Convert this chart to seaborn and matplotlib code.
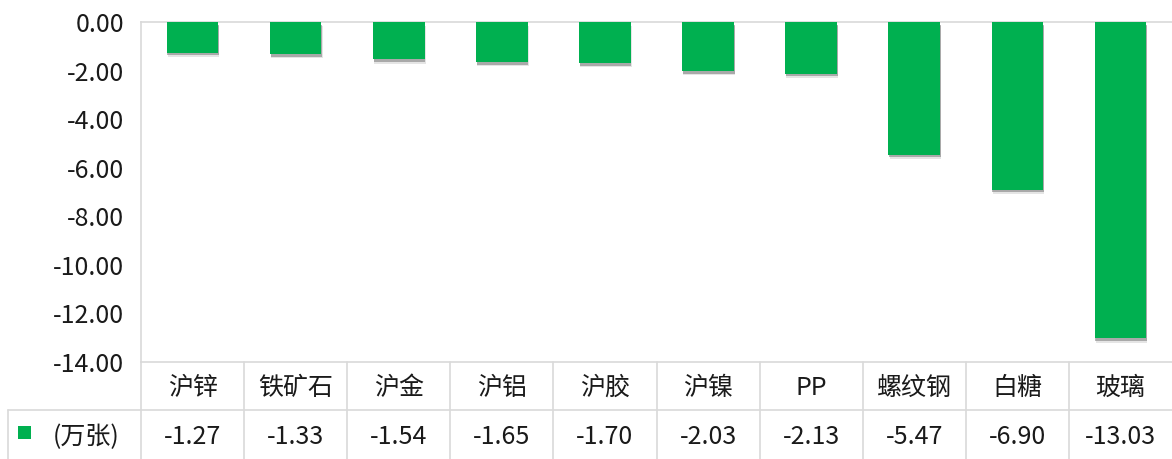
import matplotlib
matplotlib.use('Agg')
import matplotlib.pyplot as plt
import matplotlib.patheffects as pe
from matplotlib.patches import Rectangle
import seaborn as sns
import pandas as pd

categories = ['沪锌', '铁矿石', '沪金', '沪铝', '沪胶', '沪镍', 'PP', '螺纹钢', '白糖', '玻璃']
values = [-1.27, -1.33, -1.54, -1.65, -1.70, -2.03, -2.13, -5.47, -6.90, -13.03]
series_name = '(万张)'
yticks = [0, -2, -4, -6, -8, -10, -12, -14]

green = '#00B050'
grid_c = '#d9d9d9'
txt_c = '#1a1a1a'

sns.set_style('white')
plt.rcParams['font.family'] = ['Noto Sans CJK SC', 'DejaVu Sans']

df = pd.DataFrame({'cat': categories, 'val': values})

fig = plt.figure(figsize=(11.72, 4.59), dpi=100)
ax = fig.add_axes([141 / 1172, 97 / 459, 1031 / 1172, 340 / 459])

sns.barplot(data=df, x='cat', y='val', color=green, width=0.5, saturation=1,
            ax=ax, zorder=3)
for p in ax.patches:
    p.set_edgecolor('none')
    p.set_path_effects([pe.SimplePatchShadow(offset=(0.8, -3), shadow_rgbFace='#9a9a9a', alpha=0.25),
                        pe.SimplePatchShadow(offset=(0.5, -1.8), shadow_rgbFace='#606060', alpha=0.45),
                        pe.Normal()])

n = len(categories)
ax.set_xlim(-0.5, n - 0.5)
ax.set_ylim(-14, 0)
ax.set_yticks(yticks)
ax.set_yticklabels([f'{v:.2f}' for v in yticks], fontsize=18, color=txt_c)
ax.tick_params(axis='y', length=8, width=1, color=grid_c, pad=4)
ax.set_xticks([])
ax.set_xlabel('')
ax.set_ylabel('')

ax.spines['right'].set_visible(False)
for s in ['left', 'top', 'bottom']:
    ax.spines[s].set_color(grid_c)
    ax.spines[s].set_linewidth(1.2)

# data table under the chart
tr = ax.get_xaxis_transform()
row_line = -48 / 340
bottom = -97 / 340
lw = 1.2
for i in range(n):
    ax.plot([i - 0.5, i - 0.5], [0, bottom], transform=tr, color=grid_c, lw=lw, clip_on=False)
ax.plot([-0.5, n - 0.5], [row_line, row_line], transform=tr, color=grid_c, lw=lw, clip_on=False)

# left header cell of the value row
ax.plot([-133 / 1031, 0], [row_line, row_line], transform=ax.transAxes,
        color=grid_c, lw=lw, clip_on=False)
ax.plot([-133 / 1031, -133 / 1031], [row_line, bottom], transform=ax.transAxes,
        color=grid_c, lw=lw, clip_on=False)
ax.add_patch(Rectangle((-123 / 1031, -77 / 340), 13 / 1031, 13 / 340, transform=ax.transAxes,
                       facecolor=green, edgecolor='none', clip_on=False))
ax.text(-55 / 1031, -75 / 340, series_name, transform=ax.transAxes, ha='center', va='center',
        fontsize=18, color=txt_c)

for i, (c, v) in enumerate(zip(categories, values)):
    ax.text(i, -26 / 340, c, transform=tr, ha='center', va='center', fontsize=18, color=txt_c)
    ax.text(i, -75 / 340, f'{v:.2f}', transform=tr, ha='center', va='center', fontsize=18, color=txt_c)

fig.savefig('out.png', dpi=100)
plt.close(fig)
